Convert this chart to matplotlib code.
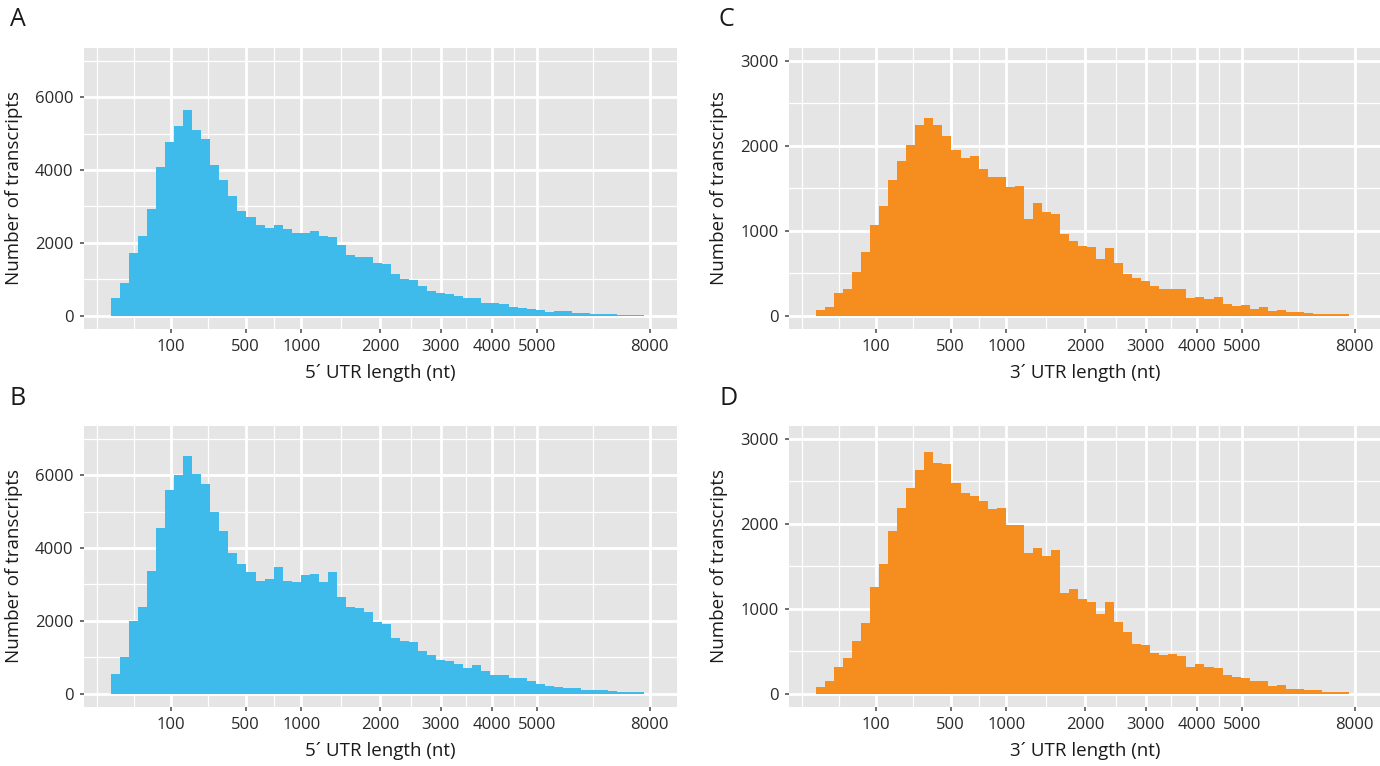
import numpy as np
import matplotlib
matplotlib.use("Agg")
import matplotlib.pyplot as plt

plt.rcParams['font.family'] = ['Open Sans', 'DejaVu Sans']

# histogram counts, 59 bins of width 1.5 on the sqrt(length) scale starting at 0
bin_width_sqrt = 1.5

utr5_a = [490, 910, 1730, 2190, 2920, 4080, 4780, 5200, 5660, 5090,
          4850, 4130, 3720, 3280, 2880, 2700, 2500, 2410, 2500, 2380,
          2280, 2260, 2330, 2200, 2170, 1930, 1660, 1610, 1620, 1460,
          1420, 1150, 1020, 975, 830, 680, 635, 600, 545, 480,
          475, 355, 345, 310, 250, 210, 180, 170, 110, 125,
          120, 80, 70, 50, 40, 35, 30, 25, 20]

utr5_b = [540, 1000, 2010, 2390, 3370, 4550, 5580, 6010, 6530, 6020,
          5750, 4980, 4470, 3860, 3550, 3350, 3100, 3150, 3480, 3100,
          3070, 3260, 3300, 3080, 3350, 2650, 2370, 2350, 2250, 1980,
          1910, 1540, 1440, 1410, 1170, 1060, 930, 890, 820, 720,
          780, 630, 520, 520, 420, 420, 350, 280, 220, 190,
          170, 145, 110, 110, 90, 70, 55, 45, 35]

utr3_c = [70, 100, 270, 310, 520, 755, 1065, 1295, 1600, 1820,
          2010, 2240, 2330, 2250, 2110, 1950, 1860, 1880, 1730, 1630,
          1630, 1510, 1530, 1140, 1330, 1220, 1200, 965, 875, 815,
          810, 665, 795, 615, 495, 450, 410, 350, 310, 320,
          310, 205, 215, 200, 225, 135, 120, 125, 80, 105,
          60, 65, 40, 45, 30, 25, 20, 15, 15]

utr3_d = [80, 145, 320, 425, 620, 835, 1255, 1525, 1915, 2190,
          2415, 2635, 2840, 2720, 2700, 2480, 2360, 2330, 2270, 2170,
          2190, 1980, 1990, 1660, 1720, 1620, 1690, 1180, 1230, 1110,
          1080, 940, 1080, 840, 725, 590, 575, 485, 455, 465,
          440, 320, 345, 310, 300, 220, 200, 185, 145, 145,
          90, 100, 55, 55, 45, 40, 25, 15, 15]

x_breaks = [100, 500, 1000, 2000, 3000, 4000, 5000, 8000]
x_limits = [0, 8000]

blue = '#3EBBEA'
orange = '#F68D1F'

panels = [
    ('A', utr5_a, blue, "5\u00b4 UTR length (nt)", 7000, [0, 2000, 4000, 6000]),
    ('B', utr5_b, blue, "5\u00b4 UTR length (nt)", 7000, [0, 2000, 4000, 6000]),
    ('C', utr3_c, orange, "3\u00b4 UTR length (nt)", 3000, [0, 1000, 2000, 3000]),
    ('D', utr3_d, orange, "3\u00b4 UTR length (nt)", 3000, [0, 1000, 2000, 3000]),
]

# axes rectangles in pixels (left, top) of a 1380x766 figure
W, H = 1380, 766
pw, ph = 592.7, 280.5
boxes = {'A': (84, 48), 'B': (84, 426), 'C': (789, 48), 'D': (789, 426)}
letter_pos = {'A': (10, 20), 'B': (10, 398), 'C': (719, 20), 'D': (719, 398)}


def sq(x):
    x = np.asarray(x, dtype=float)
    return np.sign(x) * np.sqrt(np.abs(x))


def unsq(y):
    y = np.asarray(y, dtype=float)
    return np.sign(y) * y ** 2


fig = plt.figure(figsize=(13.8, 7.66), dpi=100)

for letter, counts, colour, xlab, ymax, yticks in panels:
    left, top = boxes[letter]
    ax = fig.add_axes([left / W, 1 - (top + ph) / H, pw / W, ph / H])
    ax.set_xscale('function', functions=(sq, unsq))
    ax.set_facecolor('#E5E5E5')

    edges = unsq(np.arange(len(counts) + 1) * bin_width_sqrt)
    ax.stairs(counts, edges, fill=True, color=colour, lw=0, zorder=2)

    # minor breaks midway between majors (sqrt space), like ggplot
    b = list(sq(x_breaks))
    b = [b[0] - (b[1] - b[0])] + b
    minor = [b[0]] + [(b[i] + b[i + 1]) / 2 for i in range(len(b) - 1)]
    ax.set_xticks(x_breaks)
    ax.set_xticklabels([str(v) for v in x_breaks])
    ax.set_xticks(unsq(minor), minor=True)
    ax.set_yticks(yticks)
    ystep = yticks[1] - yticks[0]
    ax.set_yticks([v + ystep / 2 for v in yticks if v + ystep / 2 <= 1.05 * ymax],
                  minor=True)

    # ggplot style expansion on the sqrt scale
    lo, hi = sq(x_limits[0]), sq(x_limits[1])
    ex = 0.05 * (hi - lo)
    ax.set_xlim(unsq(lo - ex), unsq(hi + ex))
    ax.set_ylim(-0.05 * ymax, 1.05 * ymax)

    ax.grid(which='major', color='white', lw=2.0, zorder=0)
    ax.grid(which='minor', color='white', lw=0.9, zorder=0)
    ax.set_axisbelow(True)
    for s in ax.spines.values():
        s.set_visible(False)
    ax.tick_params(which='major', length=3, width=1.2, color='#555555',
                   labelsize=12, labelcolor='#2a2a2a')
    ax.tick_params(axis='x', which='major', pad=4.5)
    ax.tick_params(axis='y', which='major', pad=4.5)
    ax.tick_params(which='minor', length=0)

    ax.set_xlabel(xlab, fontsize=13.5, color='#1a1a1a')
    ax.xaxis.set_label_coords(0.5, -0.125)
    ax.set_ylabel('Number of transcripts', fontsize=13.5, color='#1a1a1a')
    ax.yaxis.set_label_coords(-0.103, 0.5)

    lx, ly = letter_pos[letter]
    fig.text(lx / W, 1 - ly / H, letter, fontsize=18, va='center', ha='left',
             color='#1a1a1a')

fig.savefig('out.png', dpi=100)
